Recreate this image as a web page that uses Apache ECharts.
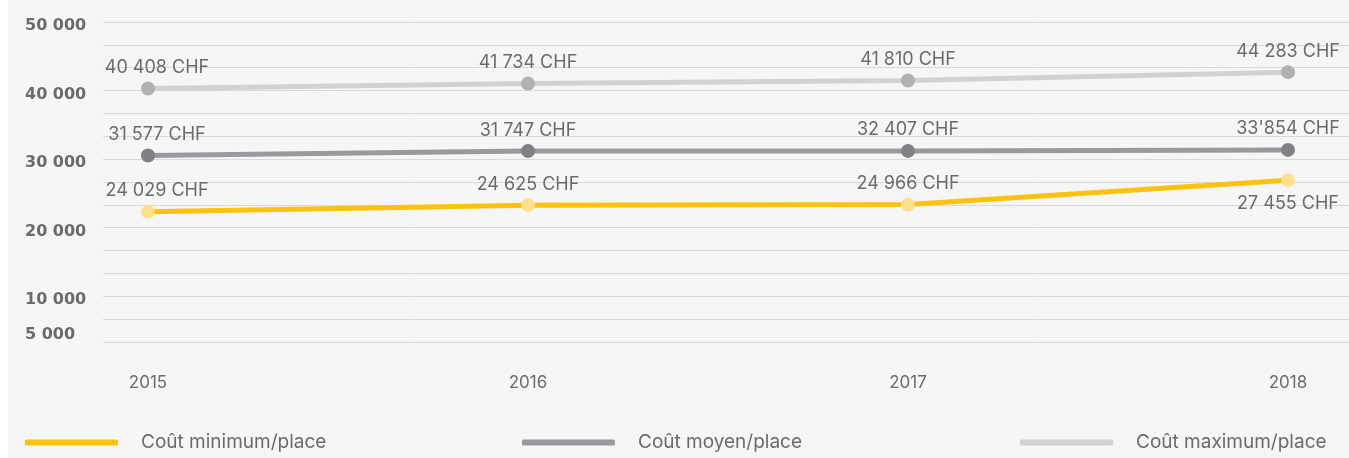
<!DOCTYPE html>
<html>
<head>
<meta charset="utf-8">
<title>Coût par place</title>
<script src="https://cdn.jsdelivr.net/npm/echarts@6/dist/echarts.min.js"></script>
<style>
    html, body { margin: 0; padding: 0; background: #ffffff; }
    #costChart { position: absolute; left: 8px; top: 0; width: 1341px; height: 458px; background: #f6f6f6; }
</style>
</head>
<body>
<div id="costChart"></div>

<script>
    // années
    var years = [2015, 2016, 2017, 2018];

    // positions (CHF)
    var coutMin = [22310, 23290, 23380, 26910];
    var coutMoyen = [30540, 31170, 31200, 31350];
    var coutMax = [40300, 41020, 41460, 42690];

    // étiquettes affichées
    var labelsMin = ['24 029 CHF', '24 625 CHF', '24 966 CHF', '27 455 CHF'];
    var labelsMoyen = ['31 577 CHF', '31 747 CHF', '32 407 CHF', "33'854 CHF"];
    var labelsMax = ['40 408 CHF', '41 734 CHF', '41 810 CHF', '44 283 CHF'];

    // axe vertical
    var yTicks = [5000, 10000, 20000, 30000, 40000, 50000];
    var seriesNames = ['Coût minimum/place', 'Coût moyen/place', 'Coût maximum/place'];

    var font = 'Inter, "Noto Sans", sans-serif';
    var textGray = '#6b6b6b';

    function fmtNumber(v) {
        return String(v).replace(/\B(?=(\d{3})+(?!\d))/g, ' ');
    }

    function pairs(vals) {
        var out = [];
        for (var i = 0; i < years.length; i++) {
            out.push([years[i], vals[i]]);
        }
        return out;
    }

    function makeSeries(name, vals, labels, lineColor, dotColor, below) {
        return {
            name: name,
            type: 'line',
            data: pairs(vals),
            symbol: 'circle',
            symbolSize: 14,
            showAllSymbol: true,
            lineStyle: { color: lineColor, width: 5 },
            itemStyle: { color: dotColor },
            label: {
                show: true,
                position: 'top',
                distance: 5,
                color: textGray,
                fontFamily: font,
                fontSize: 18,
                formatter: function (p) {
                    return labels[p.dataIndex];
                }
            },
            labelLayout: function (p) {
                // première colonne légèrement décalée à droite
                if (p.dataIndex === 0) {
                    return { dx: 9 };
                }
                if (below && p.dataIndex === years.length - 1) {
                    return { dy: 44 };
                }
                return {};
            }
        };
    }

    var chart = echarts.init(document.getElementById('costChart'));
    var option = {
        animation: false,
        backgroundColor: '#f6f6f6',
        grid: {
            left: 95,
            right: 0,
            top: 22,
            height: 320
        },
        xAxis: {
            type: 'value',
            min: 2014.8816,
            max: 2018.1605,
            axisLine: { show: false },
            axisTick: { show: false },
            splitLine: { show: false },
            axisLabel: {
                customValues: years,
                margin: 32,
                color: textGray,
                fontFamily: font,
                fontSize: 17,
                formatter: function (v) { return String(v); }
            }
        },
        yAxis: {
            type: 'value',
            min: 10000 / 3,
            max: 50000,
            interval: 10000 / 3,
            axisLine: { show: false },
            axisTick: { show: false },
            splitLine: { lineStyle: { color: '#d9d9d9', width: 1 } },
            axisLabel: {
                customValues: yTicks,
                align: 'left',
                verticalAlign: 'top',
                lineHeight: 8,
                margin: 78,
                color: textGray,
                fontFamily: '"DejaVu Sans", sans-serif',
                fontWeight: 'bold',
                fontSize: 16,
                formatter: fmtNumber
            }
        },
        legend: [
            {
                data: [{ name: seriesNames[0], itemStyle: { color: '#ffc20e' } }],
                left: 12
            },
            {
                data: [{ name: seriesNames[1], itemStyle: { color: '#9a9a9e' } }],
                left: 509
            },
            {
                data: [{ name: seriesNames[2], itemStyle: { color: '#d2d2d4' } }],
                left: 1007
            }
        ].map(function (l) {
            l.top = 428;
            l.icon = 'roundRect';
            l.itemWidth = 93;
            l.itemHeight = 6;
            l.selectedMode = false;
            l.textStyle = { color: textGray, fontFamily: font, fontSize: 19, padding: [0, 0, 0, 18] };
            return l;
        }),
        series: [
            makeSeries(seriesNames[0], coutMin, labelsMin, '#ffc20e', '#ffe08c', true),
            makeSeries(seriesNames[1], coutMoyen, labelsMoyen, '#9a9a9e', '#808085', false),
            makeSeries(seriesNames[2], coutMax, labelsMax, '#d2d2d4', '#b1b1b4', false)
        ]
    };
    chart.setOption(option);
</script>
</body>
</html>
